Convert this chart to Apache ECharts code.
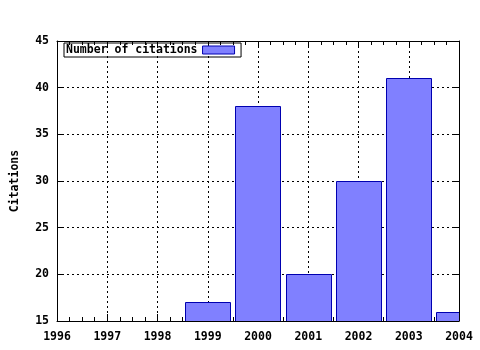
<!DOCTYPE html>
<html>
<head>
<meta charset="utf-8">
<script src="https://cdn.jsdelivr.net/npm/echarts@6/dist/echarts.min.js"></script>
<style>html,body{margin:0;padding:0;background:#fff;}#c{width:480px;height:350px;}</style>
</head>
<body>
<div id="c"></div>
<script>
const years = [1999, 2000, 2001, 2002, 2003, 2004];
const citations = [17, 38, 20, 30, 41, 16];
const seriesName = 'Number of citations';
const yAxisName = 'Citations';
const xMin = 1996, xMax = 2004, xStep = 1;
const yMin = 15, yMax = 45, yStep = 5;

const FONT = 'DejaVu Sans Mono';
const labelStyle = {fontFamily: FONT, fontWeight: 'bold', fontSize: 11.5, color: '#000'};
const black = {color: '#000', width: 1};

const chart = echarts.init(document.getElementById('c'), null, {renderer: 'canvas'});
const xBase = {
  type: 'value', min: xMin, max: xMax, interval: xStep,
  axisLine: {show: true, onZero: false, lineStyle: black},
  axisTick: {show: true, inside: true, length: 7, lineStyle: black},
  minorTick: {show: true, splitNumber: 4, length: 4, lineStyle: black}
};
const yBase = {
  type: 'value', min: yMin, max: yMax, interval: yStep,
  axisLine: {show: true, onZero: false, lineStyle: black},
  axisTick: {show: true, inside: true, length: 7, lineStyle: black}
};
chart.setOption({
  animation: false,
  backgroundColor: '#fff',
  grid: {left: 57, right: 21, top: 41, bottom: 29},
  legend: {
    left: 64, top: 43, orient: 'horizontal', align: 'right',
    borderColor: '#000', borderWidth: 1, borderRadius: 0,
    padding: [1, 6, 1, 2],
    itemWidth: 32, itemHeight: 8,
    textStyle: labelStyle,
    data: [{name: seriesName, icon: 'rect', itemStyle: {color: '#8080ff', borderColor: '#0000b0', borderWidth: 1}}]
  },
  xAxis: [
    Object.assign({}, xBase, {
      position: 'bottom',
      axisLabel: Object.assign({}, labelStyle, {margin: 10, formatter: v => String(v)}),
      splitLine: {show: true, lineStyle: {color: '#000', width: 1, type: [2, 3]}}
    }),
    Object.assign({}, xBase, {
      position: 'top',
      axisLabel: {show: false},
      splitLine: {show: false}
    })
  ],
  yAxis: [
    Object.assign({}, yBase, {
      position: 'left',
      name: yAxisName, nameLocation: 'middle', nameGap: 36, nameRotate: 90,
      nameTextStyle: labelStyle,
      axisLabel: Object.assign({}, labelStyle, {margin: 8, formatter: v => String(v)}),
      splitLine: {show: true, lineStyle: {color: '#000', width: 1, type: [2, 3]}}
    }),
    Object.assign({}, yBase, {
      position: 'right',
      axisLabel: {show: false},
      splitLine: {show: false}
    })
  ],
  series: [{
    name: seriesName,
    type: 'custom',
    clip: true,
    xAxisIndex: 0, yAxisIndex: 0,
    data: years.map((y, i) => [y, citations[i]]),
    renderItem: function (params, api) {
      const x = api.value(0), v = api.value(1);
      const p0 = api.coord([x - 0.45, v]);
      const p1 = api.coord([x + 0.45, yMin]);
      return {
        type: 'rect',
        shape: {x: Math.round(p0[0]) + 0.5, y: Math.round(p0[1]) + 0.5, width: Math.round(p1[0] - p0[0]), height: Math.round(p1[1] - p0[1])},
        style: {fill: '#8080ff', stroke: '#0000b0', lineWidth: 1}
      };
    }
  }]
});
</script>
</body>
</html>
